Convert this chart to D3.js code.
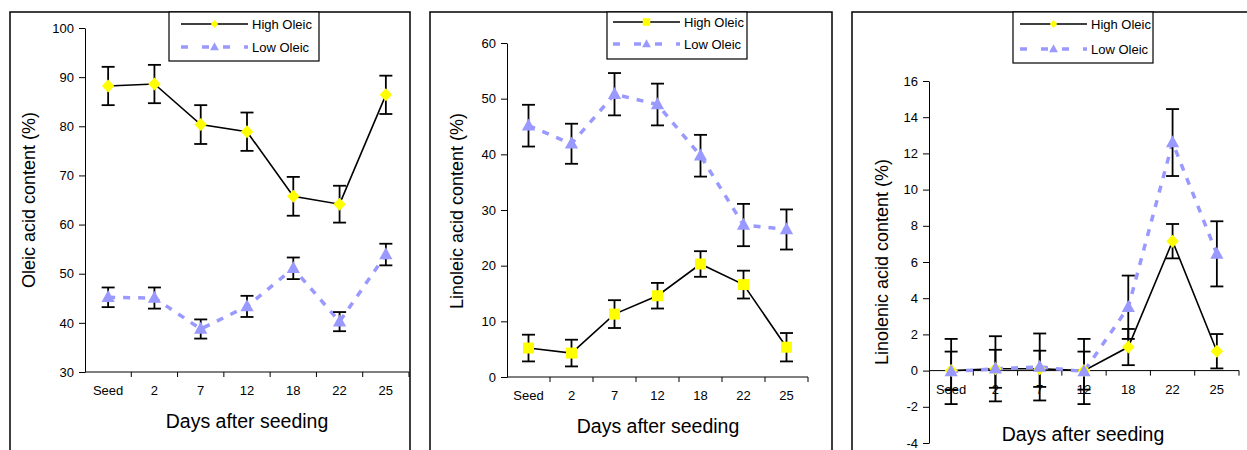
<!DOCTYPE html>
<html><head><meta charset="utf-8">
<script src="https://cdn.jsdelivr.net/npm/d3@7"></script>
<style>
html,body{margin:0;padding:0;background:#fff;}
svg{display:block;font-family:"Liberation Sans",Arial,sans-serif;}
</style></head>
<body>
<svg id="chart" width="1247" height="450"></svg>
<script>
const categories = ["Seed","2","7","12","18","22","25"];
const seriesNames = ["High Oleic","Low Oleic"];

const oleicHigh    = [88.2, 88.6, 80.35, 78.9, 65.75, 64.15, 86.4];
const oleicHighErr = [3.9, 3.9, 3.95, 3.9, 3.95, 3.75, 3.9];
const oleicLow     = [45.2, 45.05, 38.75, 43.35, 51.1, 40.25, 53.9];
const oleicLowErr  = [2.0, 2.15, 1.95, 2.15, 2.2, 1.95, 2.2];

const linoleicHigh    = [5.2, 4.3, 11.3, 14.6, 20.3, 16.6, 5.35];
const linoleicHighErr = [2.4, 2.4, 2.5, 2.3, 2.3, 2.5, 2.55];
const linoleicLow     = [45.15, 41.9, 50.8, 48.95, 39.75, 27.3, 26.5];
const linoleicLowErr  = [3.75, 3.6, 3.8, 3.75, 3.75, 3.8, 3.6];

const linolenicHigh    = [0, 0.1, 0.1, 0, 1.3, 7.15, 1.07];
const linolenicHighErr = [1.05, 1.05, 1.0, 1.05, 1.0, 0.95, 0.95];
const linolenicLow     = [-0.05, 0.1, 0.2, -0.05, 3.5, 12.6, 6.45];
const linolenicLowErr  = [1.8, 1.8, 1.85, 1.8, 1.75, 1.85, 1.8];

const oleicTicks = [30,40,50,60,70,80,90,100];
const linoleicTicks = [0,10,20,30,40,50,60];
const linolenicTicks = [-4,-2,0,2,4,6,8,10,12,14,16];

const xTitle = "Days after seeding";

const svg = d3.select("#chart");
const YELLOW = "#ffff00", LAV = "#9999ff";

function markerPath(type, s) {
  if (type === "diamond") {
    const w = s, h = s*1.04;
    return `M0,${-h/2}L${w/2},0L0,${h/2}L${-w/2},0Z`;
  }
  if (type === "square") {
    return `M${-s/2},${-s/2}h${s}v${s}h${-s}Z`;
  }
  const w = s*1.1, h = s;
  return `M0,${-h*0.6}L${w/2},${h*0.4}L${-w/2},${h*0.4}Z`;
}

function panel(cfg) {
  const g = svg.append("g");
  g.append("path")
    .attr("d", `M${cfg.bx0},450V${cfg.by0}H${cfg.bx1}V450`)
    .attr("fill","none").attr("stroke","#000").attr("stroke-width",1.5);

  const x = d3.scaleBand().domain(categories).range([cfg.x0, cfg.x1]).padding(0);
  const y = d3.scaleLinear().domain([cfg.ticks[0], cfg.ticks[cfg.ticks.length-1]]).range([cfg.yb, cfg.yt]);
  const cx = c => x(c) + x.bandwidth()/2;
  const xAxisY = y(cfg.xAxisAt);

  const ya = g.append("g").attr("transform",`translate(${cfg.x0},0)`)
    .call(d3.axisLeft(y).tickValues(cfg.ticks).tickFormat(d => String(d))
      .tickSize(6).tickPadding(5).tickSizeOuter(0));
  ya.select(".domain").attr("stroke","#000");
  ya.selectAll("line").attr("stroke","#000");
  ya.selectAll("text").attr("font-size",13).attr("fill","#000")
    .attr("font-family","'Liberation Sans',Arial,sans-serif");

  g.append("line").attr("x1",cfg.x0).attr("x2",cfg.x1).attr("y1",xAxisY).attr("y2",xAxisY)
    .attr("stroke","#000").attr("stroke-width",1);
  const bounds = categories.slice(1).map(c => x(c)).concat([cfg.x1]);
  g.selectAll(".xt").data(bounds).enter().append("line")
    .attr("x1",d=>d).attr("x2",d=>d).attr("y1",xAxisY).attr("y2",xAxisY+5)
    .attr("stroke","#000").attr("stroke-width",1);
  g.selectAll(".xl").data(categories).enter().append("text")
    .attr("x",d=>cx(d)).attr("y",xAxisY+cfg.labelOff)
    .attr("text-anchor","middle").attr("font-size",13).attr("fill","#000")
    .text(d=>d);

  g.append("text").attr("x",cfg.xtX).attr("y",cfg.xtY).attr("text-anchor","middle")
    .attr("font-size",19.5).attr("fill","#000").text(xTitle);
  g.append("text").attr("transform",`translate(${cfg.ytX},${cfg.ytY}) rotate(-90)`)
    .attr("text-anchor","middle").attr("dominant-baseline","central")
    .attr("font-size",18).attr("fill","#000").text(cfg.yTitle);

  const line = d3.line().x((d,i)=>cx(categories[i])).y(d=>y(d));
  g.append("path").datum(cfg.high).attr("d",line).attr("fill","none")
    .attr("stroke","#000").attr("stroke-width",1.6);
  g.append("path").datum(cfg.low).attr("d",line).attr("fill","none")
    .attr("stroke",LAV).attr("stroke-width",3.5).attr("stroke-dasharray","7,8");

  function errBars(vals, errs) {
    const eg = g.append("g").attr("stroke","#000").attr("stroke-width",1.8);
    vals.forEach((v,i)=>{
      const px = cx(categories[i]);
      const y1 = y(v+errs[i]), y2 = y(v-errs[i]);
      eg.append("line").attr("x1",px).attr("x2",px).attr("y1",y1).attr("y2",y2);
      eg.append("line").attr("x1",px-6.5).attr("x2",px+6.5).attr("y1",y1).attr("y2",y1);
      eg.append("line").attr("x1",px-6.5).attr("x2",px+6.5).attr("y1",y2).attr("y2",y2);
    });
  }
  errBars(cfg.high, cfg.highErr);
  errBars(cfg.low, cfg.lowErr);

  g.selectAll(".mh").data(cfg.high).enter().append("path")
    .attr("d", markerPath(cfg.highMarker, cfg.highMarker==="square"?11:12.5))
    .attr("transform",(d,i)=>`translate(${cx(categories[i])},${y(d)})`)
    .attr("fill",YELLOW);
  g.selectAll(".ml").data(cfg.low).enter().append("path")
    .attr("d", markerPath("triangle", 12))
    .attr("transform",(d,i)=>`translate(${cx(categories[i])},${y(d)})`)
    .attr("fill",LAV);

  const L = cfg.leg;
  g.append("rect").attr("x",L.x0).attr("y",L.y0).attr("width",L.x1-L.x0).attr("height",L.y1-L.y0)
    .attr("fill","#fff").attr("stroke","#000").attr("stroke-width",1.2);
  g.append("line").attr("x1",L.lx0).attr("x2",L.lx1).attr("y1",L.r1).attr("y2",L.r1)
    .attr("stroke","#000").attr("stroke-width",1.6);
  g.append("path").attr("d",markerPath(cfg.highMarker, 7.5))
    .attr("transform",`translate(${(L.lx0+L.lx1)/2},${L.r1})`).attr("fill",YELLOW);
  g.append("line").attr("x1",L.lx0).attr("x2",L.lx1).attr("y1",L.r2).attr("y2",L.r2)
    .attr("stroke",LAV).attr("stroke-width",3.5).attr("stroke-dasharray","7,14");
  g.append("path").attr("d",markerPath("triangle", 8))
    .attr("transform",`translate(${(L.lx0+L.lx1)/2},${L.r2})`).attr("fill",LAV);
  g.append("text").attr("x",L.tx).attr("y",L.r1).attr("dominant-baseline","central")
    .attr("font-size",13).attr("fill","#000").text(seriesNames[0]);
  g.append("text").attr("x",L.tx).attr("y",L.r2).attr("dominant-baseline","central")
    .attr("font-size",13).attr("fill","#000").text(seriesNames[1]);
}

panel({
  bx0:10, bx1:410, by0:12,
  x0:85, x1:409, yt:28, yb:372, ticks:oleicTicks, xAxisAt:30, labelOff:23,
  xtX:247, xtY:428, ytX:29, ytY:200, yTitle:"Oleic acid content (%)",
  high:oleicHigh, highErr:oleicHighErr, low:oleicLow, lowErr:oleicLowErr, highMarker:"diamond",
  leg:{x0:169,x1:319,y0:12,y1:61,r1:24,r2:47,lx0:181,lx1:248,tx:252}
});
panel({
  bx0:430, bx1:832, by0:12,
  x0:507, x1:808, yt:43, yb:377, ticks:linoleicTicks, xAxisAt:0, labelOff:23,
  xtX:658, xtY:433, ytX:457, ytY:211, yTitle:"Linoleic acid content (%)",
  high:linoleicHigh, highErr:linoleicHighErr, low:linoleicLow, lowErr:linoleicLowErr, highMarker:"square",
  leg:{x0:607,x1:747,y0:12,y1:59,r1:22,r2:44,lx0:613,lx1:680,tx:684}
});
panel({
  bx0:852, bx1:1248, by0:12,
  x0:929, x1:1239, yt:81, yb:443, ticks:linolenicTicks, xAxisAt:0, labelOff:23,
  xtX:1083, xtY:441, ytX:882, ytY:262, yTitle:"Linolenic acid content (%)",
  high:linolenicHigh, highErr:linolenicHighErr, low:linolenicLow, lowErr:linolenicLowErr, highMarker:"diamond",
  leg:{x0:1013,x1:1153,y0:12,y1:63,r1:24,r2:49,lx0:1020,lx1:1087,tx:1091}
});
</script>
</body></html>
